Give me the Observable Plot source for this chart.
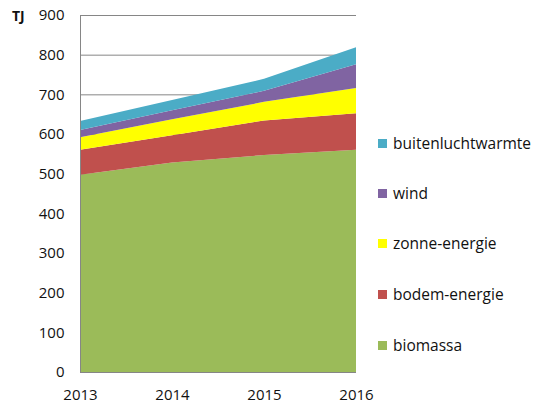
<!DOCTYPE html>
<html>
<head>
<meta charset="utf-8">
<script src="https://cdn.jsdelivr.net/npm/d3@7"></script>
<script src="https://cdn.jsdelivr.net/npm/@observablehq/plot@0.6"></script>
<style>
  html, body { margin: 0; padding: 0; background: #fff; }
  #wrap { position: relative; width: 540px; height: 405px; font-family: "Open Sans", sans-serif; }
  #legend { position: absolute; left: 378px; top: 0; font-size: 15.5px; color: #111; }
  .item { position: absolute; left: 0; white-space: nowrap; display: flex; align-items: center; }
  .sw { width: 9px; height: 9px; margin-right: 6px; }
  #tj { position: absolute; left: 12px; top: 6px; font-size: 14px; font-weight: bold; color: #111; }
</style>
</head>
<body>
<div id="wrap"><div id="tj">TJ</div><div id="legend"></div></div>
<script>
const years = [2013, 2014, 2015, 2016];
const seriesNames = ["biomassa", "bodem-energie", "zonne-energie", "wind", "buitenluchtwarmte"];
const biomassa = [497, 528, 547, 560];
const bodem = [63, 69, 87, 92];
const zonne = [32, 40, 47, 64];
const wind = [18, 23, 28, 60];
const buiten = [23, 26, 30, 43];
const colors = ["#9BBB59", "#C0504D", "#FFFF00", "#8064A2", "#4BACC6"];
const yTicks = [0, 100, 200, 300, 400, 500, 600, 700, 800, 900];

const valuesBySeries = [biomassa, bodem, zonne, wind, buiten];
const data = [];
seriesNames.forEach((s, i) => years.forEach((y, j) => data.push({year: y, series: s, value: valuesBySeries[i][j]})));

const chart = Plot.plot({
  width: 540,
  height: 405,
  marginLeft: 80,
  marginRight: 184,
  marginTop: 15,
  marginBottom: 33,
  style: {fontFamily: "Open Sans, sans-serif", fontSize: "15px", color: "#111", background: "#fff"},
  x: {type: "linear", domain: [2013, 2016], ticks: years, tickFormat: d => String(d), tickSize: 0, tickPadding: 17, label: null},
  y: {domain: [0, 900], ticks: yTicks, tickSize: 0, tickPadding: 16, label: null},
  color: {domain: seriesNames, range: colors},
  marks: [
    Plot.ruleY(yTicks.filter(d => d > 0), {stroke: "#868686", strokeWidth: 1, strokeOpacity: 1}),
    Plot.areaY(data, {x: "year", y: "value", z: "series", fill: "series", order: seriesNames, fillOpacity: 1}),
    Plot.ruleY([0], {stroke: "#868686", strokeWidth: 1}),
    Plot.ruleX([2013], {stroke: "#868686", strokeWidth: 1})
  ]
});
document.getElementById("wrap").prepend(chart);

const legend = document.getElementById("legend");
const legendOrder = seriesNames.slice().reverse();
const rowY = [143, 193, 243, 294, 345];
legendOrder.forEach((s, i) => {
  const it = document.createElement("div");
  it.className = "item";
  it.style.top = (rowY[i] - 11) + "px";
  it.style.height = "22px";
  const sw = document.createElement("span");
  sw.className = "sw";
  sw.style.background = colors[seriesNames.indexOf(s)];
  it.appendChild(sw);
  it.appendChild(document.createTextNode(s));
  legend.appendChild(it);
});
</script>
</body>
</html>
